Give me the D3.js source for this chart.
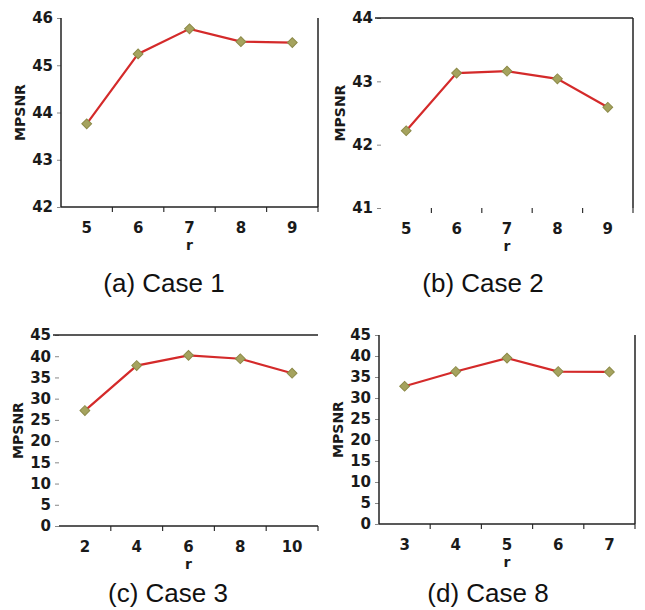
<!DOCTYPE html>
<html lang="en">
<head>
<meta charset="UTF-8">
<title>MPSNR vs r</title>
<script src="https://d3js.org/d3.v7.min.js"></script>
<style>
body { margin: 0; background: #fff; }
svg { display: block; }
.tick text { font-family: "DejaVu Sans", sans-serif; font-weight: bold; font-size: 15px; fill: #1a1a1a; }
.axis-title { font-family: "DejaVu Sans", sans-serif; font-weight: bold; font-size: 14px; fill: #1a1a1a; }
.caption { font-family: "Liberation Sans", Arial, sans-serif; font-size: 26px; fill: #111; }
</style>
</head>
<body>
<svg id="fig" width="645" height="610"></svg>
<script>
// data
const rA = ["5", "6", "7", "8", "9"];
const mpsnrA = [43.76, 45.24, 45.77, 45.50, 45.48];
const yTicksA = [42, 43, 44, 45, 46];

const rB = ["5", "6", "7", "8", "9"];
const mpsnrB = [42.22, 43.13, 43.16, 43.04, 42.59];
const yTicksB = [41, 42, 43, 44];

const rC = ["2", "4", "6", "8", "10"];
const mpsnrC = [27.2, 37.8, 40.2, 39.4, 36.0];
const yTicksC = [0, 5, 10, 15, 20, 25, 30, 35, 40, 45];

const rD = ["3", "4", "5", "6", "7"];
const mpsnrD = [32.8, 36.3, 39.5, 36.3, 36.2];
const yTicksD = [0, 5, 10, 15, 20, 25, 30, 35, 40, 45];

const captions = ["(a) Case 1", "(b) Case 2", "(c) Case 3", "(d) Case 8"];

// panel boxes (left, top, right, bottom) and which frame edges show
const panels = [
  { r: rA, v: mpsnrA, ticks: yTicksA, box: [61, 18, 318, 207], edges: ["left", "bottom", "right"], cap: [164, 292] },
  { r: rB, v: mpsnrB, ticks: yTicksB, box: [381, 18, 633, 208], edges: ["top", "right"], cap: [483, 292] },
  { r: rC, v: mpsnrC, ticks: yTicksC, box: [59, 335, 318, 526], edges: ["top", "bottom"], cap: [168, 602] },
  { r: rD, v: mpsnrD, ticks: yTicksD, box: [379, 335, 635, 524], edges: ["left", "bottom", "right"], cap: [488, 602] }
];

const svg = d3.select("#fig");

panels.forEach((p, i) => {
  const [x0, y0, x1, y1] = p.box;
  const g = svg.append("g");

  const x = d3.scaleBand().domain(p.r).range([x0, x1]).padding(0);
  const y = d3.scaleLinear().domain(d3.extent(p.ticks)).range([y1, y0]);

  // y axis (labels + short outside ticks)
  const ya = g.append("g")
    .attr("transform", `translate(${x0},0)`)
    .call(d3.axisLeft(y).tickValues(p.ticks).tickSize(4).tickPadding(4).tickFormat(d3.format("d")));
  ya.select(".domain").remove();
  ya.selectAll(".tick line").attr("stroke", "#888").attr("stroke-width", 1);

  // x axis labels
  const xa = g.append("g")
    .attr("transform", `translate(0,${y1})`)
    .call(d3.axisBottom(x).tickSize(0).tickPadding(15));
  xa.select(".domain").remove();

  // x boundary ticks
  g.selectAll(".btick")
    .data(p.r)
    .join("line")
    .attr("x1", d => x(d) + x.bandwidth())
    .attr("x2", d => x(d) + x.bandwidth())
    .attr("y1", y1)
    .attr("y2", y1 + 5)
    .attr("stroke", "#333")
    .attr("stroke-width", 1.2);

  // frame edges
  const edgeLines = {
    left: [x0, y0, x0, y1],
    right: [x1, y0, x1, y1],
    top: [x0 - 6, y0, x1, y0],
    bottom: [x0, y1, x1, y1]
  };
  p.edges.forEach(e => {
    const [ax, ay, bx, by] = edgeLines[e];
    g.append("line")
      .attr("x1", ax).attr("y1", ay).attr("x2", bx).attr("y2", by)
      .attr("stroke", "#222").attr("stroke-width", 1.5);
  });

  // data line
  const pts = p.r.map((d, k) => [x(d) + x.bandwidth() / 2, y(p.v[k])]);
  g.append("path")
    .attr("d", d3.line()(pts))
    .attr("fill", "none")
    .attr("stroke", "#d42a2a")
    .attr("stroke-width", 2.2);

  // diamond markers
  g.selectAll(".mk")
    .data(pts)
    .join("path")
    .attr("transform", d => `translate(${d[0]},${d[1]}) rotate(45)`)
    .attr("d", d3.symbol(d3.symbolSquare, 48)())
    .attr("fill", "#a5a35e")
    .attr("stroke", "#8c8a48")
    .attr("stroke-width", 1);

  // axis titles
  g.append("text")
    .attr("class", "axis-title")
    .attr("text-anchor", "middle")
    .attr("transform", `translate(${x0 - 41},${(y0 + y1) / 2}) rotate(-90)`)
    .attr("dy", "0.35em")
    .text("MPSNR");

  g.append("text")
    .attr("class", "axis-title")
    .attr("text-anchor", "middle")
    .attr("x", (x0 + x1) / 2)
    .attr("y", y1 + 43)
    .text("r");

  // caption
  g.append("text")
    .attr("class", "caption")
    .attr("text-anchor", "middle")
    .attr("x", p.cap[0])
    .attr("y", p.cap[1])
    .text(captions[i]);
});
</script>
</body>
</html>
